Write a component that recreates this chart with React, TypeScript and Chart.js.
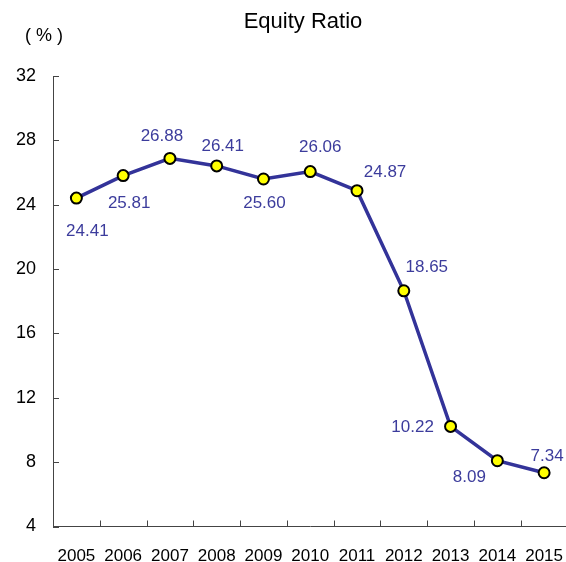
import React, { useEffect, useRef } from 'react';
import { Chart, registerables } from 'chart.js';

Chart.register(...registerables);

const years = ['2005', '2006', '2007', '2008', '2009', '2010', '2011', '2012', '2013', '2014', '2015'];
const equityRatio = [24.41, 25.81, 26.88, 26.41, 25.6, 26.06, 24.87, 18.65, 10.22, 8.09, 7.34];
const yMin = 4;
const yMax = 32;
const yStep = 4;
const chartTitle = 'Equity Ratio';
const unitLabel = '( % )';
// label placement relative to each point (dx, dy in px)
const labelOffsets: [number, number][] = [
  [11, 33], [6, 28], [-8, -22], [6, -20], [1, 24], [10, -24],
  [28, -18], [23, -23], [-38, 1], [-28, 17], [3, -16],
];

const FONT = '"Liberation Sans", Arial, sans-serif';

const decorPlugin = {
  id: 'decor',
  afterDraw(chart: any) {
    const { ctx, chartArea, scales } = chart;
    const xs = scales.x;
    const ys = scales.y;
    ctx.save();
    ctx.strokeStyle = '#444';
    ctx.lineWidth = 1;
    ctx.beginPath();
    for (let v = yMin; v <= yMax; v += yStep) {
      const py = Math.round(ys.getPixelForValue(v)) + 0.5;
      ctx.moveTo(chartArea.left, py);
      ctx.lineTo(chartArea.left + 6, py);
    }
    for (let i = 1; i < years.length; i++) {
      const px = Math.round((xs.getPixelForValue(i - 1) + xs.getPixelForValue(i)) / 2) + 0.5;
      ctx.moveTo(px, chartArea.bottom);
      ctx.lineTo(px, chartArea.bottom - 6);
    }
    ctx.stroke();

    ctx.fillStyle = '#000';
    ctx.textAlign = 'center';
    ctx.textBaseline = 'middle';
    ctx.font = `22px ${FONT}`;
    ctx.fillText(chartTitle, 303, 22);
    ctx.font = `18px ${FONT}`;
    ctx.fillText(unitLabel, 44, 36);
    ctx.restore();
  },
  afterDatasetsDraw(chart: any) {
    const { ctx } = chart;
    const meta = chart.getDatasetMeta(0);
    ctx.save();
    ctx.fillStyle = '#3c3c9c';
    ctx.font = `17px ${FONT}`;
    ctx.textAlign = 'center';
    ctx.textBaseline = 'middle';
    meta.data.forEach((el: any, i: number) => {
      const [dx, dy] = labelOffsets[i];
      ctx.fillText(equityRatio[i].toFixed(2), el.x + dx, el.y + dy);
    });
    ctx.restore();
  },
};

export default function App() {
  const ref = useRef<HTMLCanvasElement | null>(null);
  useEffect(() => {
    if (!ref.current) return;
    const chart = new Chart(ref.current, {
      type: 'line',
      data: {
        labels: years,
        datasets: [
          {
            data: equityRatio,
            borderColor: '#333399',
            borderWidth: 3.5,
            pointBackgroundColor: '#ffff00',
            pointBorderColor: '#000',
            pointBorderWidth: 2,
            pointRadius: 5.5,
            tension: 0,
          },
        ],
      },
      options: {
        animation: false,
        responsive: true,
        maintainAspectRatio: false,
        layout: { padding: { top: 76, right: 6, left: 0, bottom: 0 } },
        plugins: { legend: { display: false }, tooltip: { enabled: false }, title: { display: false } },
        scales: {
          x: {
            offset: true,
            grid: { display: false, drawTicks: false, offset: true },
            border: { display: true, color: '#444', width: 1 },
            ticks: { color: '#000', font: { size: 17, family: FONT }, padding: 20, maxRotation: 0, autoSkip: false },
            afterFit: (s: any) => {
              s.height = 35.5;
              s.paddingLeft = 0;
              s.paddingRight = 0;
            },
          },
          y: {
            min: yMin,
            max: yMax,
            grid: { display: false, drawTicks: false },
            border: { display: true, color: '#444', width: 1 },
            ticks: { stepSize: yStep, color: '#000', font: { size: 18, family: FONT }, padding: 17 },
            afterFit: (s: any) => {
              s.width = 53;
              s.paddingTop = 0;
              s.paddingBottom = 0;
            },
          },
        },
      },
      plugins: [decorPlugin],
    });
    return () => chart.destroy();
  }, []);
  return (
    <div style={{ position: 'fixed', left: 0, top: 0, width: 566, height: 562, overflow: 'hidden', background: '#fff' }}>
      <div style={{ position: 'relative', width: 575, height: 562 }}>
        <canvas ref={ref} />
      </div>
    </div>
  );
}
